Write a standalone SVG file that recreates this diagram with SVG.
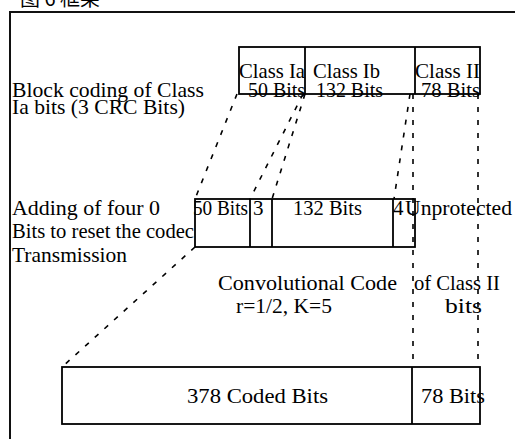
<svg xmlns="http://www.w3.org/2000/svg" width="515" height="439" viewBox="0 0 515 439">
<style>
text{font-family:"Liberation Serif","Times New Roman",serif;font-size:21px;fill:#000}
.cjk{font-family:"Noto Sans CJK SC",sans-serif;font-size:20px}
.box{fill:none;stroke:#000;stroke-width:1.8}
.div{stroke:#000;stroke-width:1.8}
.dash{stroke:#000;stroke-width:1.6;stroke-dasharray:5,8;fill:none}
.frame{stroke:#111;stroke-width:2;fill:none}
</style>
<rect width="515" height="439" fill="#fff"/>
<text class="cjk" x="20" y="6">图 6 框架</text>
<path class="frame" d="M10,439 V12 H515"/>
<g id="labels">
<text x="12" y="97" textLength="192" lengthAdjust="spacingAndGlyphs">Block coding of Class</text>
<text x="12" y="114" textLength="173" lengthAdjust="spacingAndGlyphs">Ia bits (3 CRC Bits)</text>
<text x="12" y="215" textLength="148" lengthAdjust="spacingAndGlyphs">Adding of four 0</text>
<text x="12" y="238" textLength="182" lengthAdjust="spacingAndGlyphs">Bits to reset the codec</text>
<text x="12" y="262" textLength="115" lengthAdjust="spacingAndGlyphs">Transmission</text>
<text x="218" y="290" textLength="179" lengthAdjust="spacingAndGlyphs">Convolutional Code</text>
<text x="236" y="313" textLength="96" lengthAdjust="spacingAndGlyphs">r=1/2, K=5</text>
<text x="414" y="290" textLength="86" lengthAdjust="spacingAndGlyphs">of Class II</text>
<text x="445" y="313" textLength="37" lengthAdjust="spacingAndGlyphs">bits</text>
</g>
<g id="top-block">
<rect class="box" x="239" y="47" width="241" height="47"/>
<line class="div" x1="305" y1="47" x2="305" y2="94"/>
<line class="div" x1="415" y1="47" x2="415" y2="94"/>
<text x="239" y="78" textLength="66" lengthAdjust="spacingAndGlyphs">Class Ia</text>
<text x="313" y="78" textLength="67" lengthAdjust="spacingAndGlyphs">Class Ib</text>
<text x="415" y="78" textLength="65" lengthAdjust="spacingAndGlyphs">Class II</text>
<text x="248" y="97" textLength="57" lengthAdjust="spacingAndGlyphs">50 Bits</text>
<text x="316" y="97" textLength="67" lengthAdjust="spacingAndGlyphs">132 Bits</text>
<text x="421" y="97" textLength="59" lengthAdjust="spacingAndGlyphs">78 Bits</text>
</g>
<g id="middle-block">
<rect class="box" x="195" y="199" width="220" height="48"/>
<line class="div" x1="250" y1="199" x2="250" y2="247"/>
<line class="div" x1="272" y1="199" x2="272" y2="247"/>
<line class="div" x1="393" y1="199" x2="393" y2="247"/>
<text x="193" y="215" textLength="55" lengthAdjust="spacingAndGlyphs">50 Bits</text>
<text x="253" y="215">3</text>
<text x="293" y="215" textLength="69" lengthAdjust="spacingAndGlyphs">132 Bits</text>
<text x="393" y="215">4</text>
<text x="405" y="215" textLength="107" lengthAdjust="spacingAndGlyphs">Unprotected</text>
</g>
<g id="bottom-block">
<rect class="box" x="62" y="367" width="418" height="57"/>
<line class="div" x1="412" y1="367" x2="412" y2="424"/>
<text x="187" y="403" textLength="141" lengthAdjust="spacingAndGlyphs">378 Coded Bits</text>
<text x="421" y="403" textLength="64" lengthAdjust="spacingAndGlyphs">78 Bits</text>
</g>
<g id="connectors">
<line class="dash" x1="237" y1="94" x2="195" y2="199"/>
<line class="dash" x1="303" y1="94" x2="250" y2="199"/>
<line class="dash" x1="305" y1="94" x2="272" y2="199"/>
<line class="dash" x1="410" y1="94" x2="394" y2="199"/>
<line class="dash" x1="413" y1="94" x2="413" y2="367"/>
<line class="dash" x1="478" y1="94" x2="478" y2="367"/>
<line class="dash" x1="195" y1="247" x2="62" y2="367"/>
</g>
</svg>
